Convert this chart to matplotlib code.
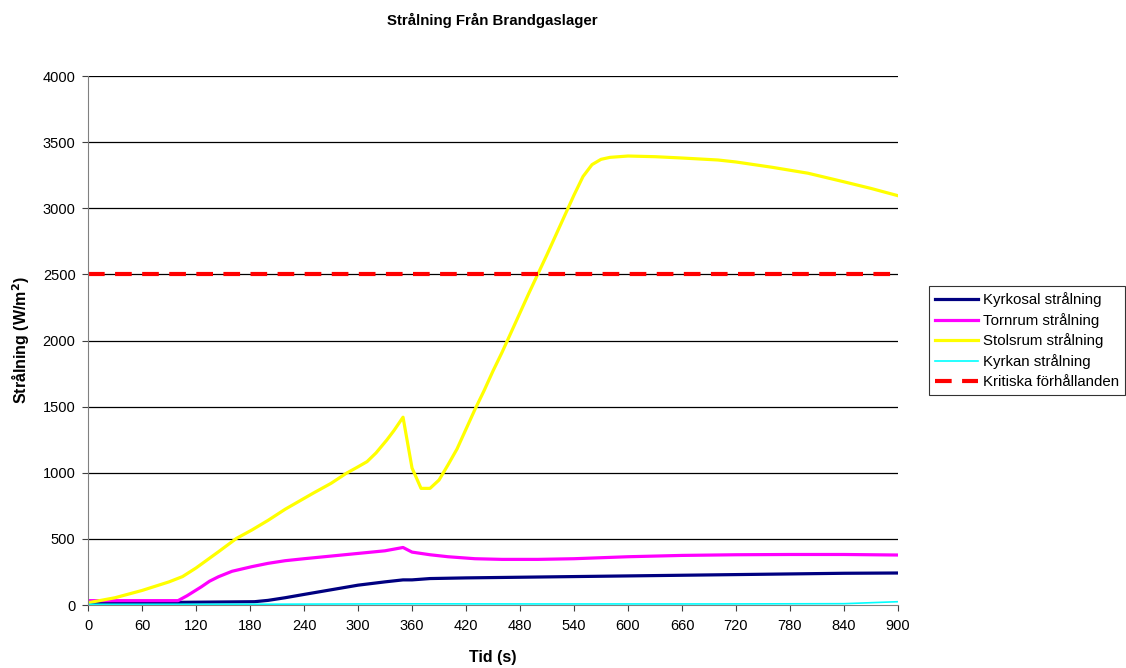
import numpy as np
import matplotlib.pyplot as plt

plt.rcParams['font.family'] = ['Liberation Sans', 'DejaVu Sans']

# Stolsrum (yellow)
t_stol = [0, 30, 60, 90, 105, 120, 145, 165, 182, 200, 219, 250, 270, 287, 300,
          310, 320, 332, 340, 350,
          360, 370, 380, 390, 400, 410, 420, 430, 440, 450, 460, 470, 480, 490,
          500, 510, 520, 530, 540, 550, 560, 570, 580, 600, 630, 660, 700, 720,
          760, 800, 840, 870, 900]
stol = [17, 55, 110, 175, 215, 280, 403, 504, 567, 640, 724, 845, 920, 996, 1045,
        1084, 1150, 1248, 1320, 1420,
        1036, 882, 882, 945, 1060, 1180, 1330, 1480, 1620, 1770, 1910, 2060, 2210, 2360,
        2505, 2650, 2800, 2950, 3100, 3240, 3330, 3370, 3385, 3395, 3390, 3380, 3365, 3350,
        3310, 3265, 3200, 3150, 3095]

# Tornrum (magenta)
t_torn = [0, 50, 100, 110, 126, 135, 145, 160, 182, 200, 219, 240, 270, 300, 330,
          350, 360, 380, 400, 430, 460, 500, 540, 600, 660, 720, 780, 840, 900]
torn = [33, 33, 33, 70, 138, 180, 214, 255, 290, 315, 335, 350, 370, 390, 410,
        435, 400, 380, 365, 350, 345, 345, 350, 365, 375, 380, 382, 382, 378]

# Kyrkosal (navy)
t_sal = [0, 100, 185, 200, 219, 240, 270, 300, 330, 350, 360, 380, 420, 480, 540,
         600, 660, 720, 780, 840, 900]
sal = [20, 20, 25, 35, 55, 80, 115, 150, 175, 190, 190, 200, 205, 210, 215,
       220, 225, 230, 235, 240, 242]

# Kyrkan (cyan)
t_kyrkan = [0, 200, 350, 500, 700, 840, 900]
kyrkan = [5, 6, 9, 8, 8, 10, 25]

kritisk = 2500

fig = plt.figure(figsize=(11.26, 6.68), dpi=100)
ax = fig.add_axes([0.0782, 0.0943, 0.7193, 0.7919])

for yv in range(500, 4001, 500):
    ax.axhline(yv, color='black', lw=0.9, zorder=0)

ax.plot(t_sal, sal, color='#000080', lw=2.3, label='Kyrkosal strålning')
ax.plot(t_torn, torn, color='#FF00FF', lw=2.3, label='Tornrum strålning')
ax.plot(t_stol, stol, color='#FFFF00', lw=2.3, label='Stolsrum strålning')
ax.plot(t_kyrkan, kyrkan, color='#00FFFF', lw=1.2, label='Kyrkan strålning')
ax.plot([0, 900], [kritisk, kritisk], color='#FF0000', lw=3, ls=(0, (4, 2.5)),
        label='Kritiska förhållanden')

ax.set_xlim(0, 900)
ax.set_ylim(0, 4000)
ax.set_xticks(np.arange(0, 901, 60))
ax.set_yticks(np.arange(0, 4001, 500))
ax.tick_params(labelsize=10.5, length=4, color='#404040', direction='out')
ax.tick_params(axis='x', pad=6)
ax.tick_params(axis='y', pad=5)
for s in ['top', 'right']:
    ax.spines[s].set_visible(False)
for s in ['left', 'bottom']:
    ax.spines[s].set_color('#808080')

ax.set_xlabel('Tid (s)', fontsize=11.5, fontweight='bold', labelpad=12)
ax.set_ylabel('Strålning (W/m$^\\mathbf{2}$)', fontsize=11.5, fontweight='bold', labelpad=8)
fig.text(0.437, 0.970, 'Strålning Från Brandgaslager', fontsize=10.8, fontweight='bold',
         ha='center', va='center')

leg = ax.legend(loc='center left', bbox_to_anchor=(1.038, 0.5), fontsize=10.8,
                frameon=True, fancybox=False, edgecolor='black', handlelength=2.9,
                borderpad=0.4, labelspacing=0.38, handletextpad=0.3, borderaxespad=0)
leg.get_frame().set_linewidth(0.8)

fig.savefig('out.png', dpi=100)
